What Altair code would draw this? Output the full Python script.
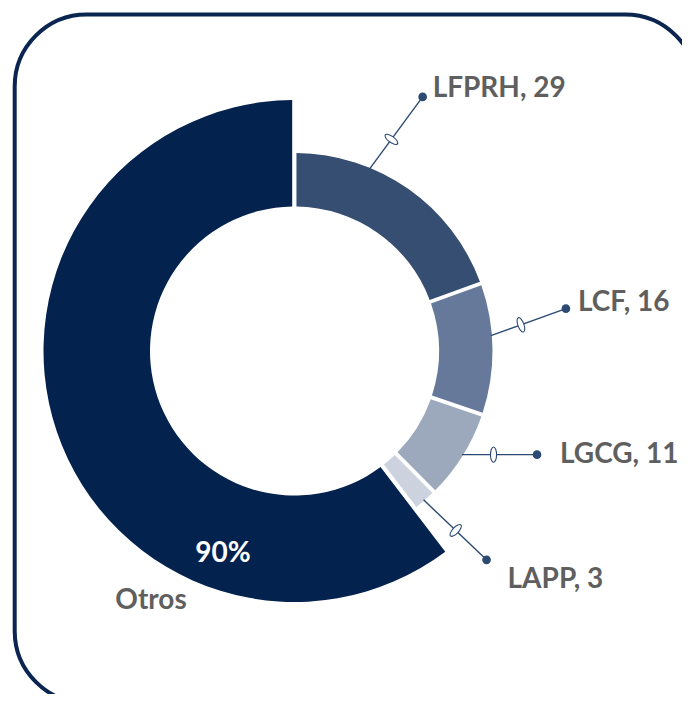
import math
import altair as alt
import pandas as pd

# ---- data ----
categories = ["LFPRH", "LCF", "LGCG", "LAPP", "Otros"]
values = [29, 16, 11, 3, 90]
colors = ["#354e71", "#66799a", "#9ca9bd", "#ccd3de", "#03224e"]

# ---- layout / style ----
W, H = 674, 686
CX, CY = 286.5, 343.0
R_IN = 144.5
R_OUT_MAIN = 251
R_OUT_SMALL = 198
LINE = "#2c4a72"
TEXT = "#5f5f5f"
BORDER = "#0a2550"
FONT = "Lato"
FS = 28
ELLIPSE = "M0,-1 A0.4,1 0 1,1 0,1 A0.4,1 0 1,1 0,-1 Z"

# annotation layout for the four labelled slices
anchor_frac = [0.32, 0.40, 0.49, 0.52]            # where along the slice the leader starts
dot_offset = [(53, -72), (75, -27), (75, 0), (63, 60)]
mark_frac = [0.41, 0.40, 0.42, 0.51]              # where the break symbol sits on the leader
text_offset = [(10, 0), (12, 2.5), (23, 8), (21, 28)]

# ---- derived tables ----
total = sum(values)
t0, t1, acc = [], [], 0.0
for v in values:
    t0.append(acc / total * 2 * math.pi)
    acc += v
    t1.append(acc / total * 2 * math.pi)

arcs_df = pd.DataFrame({
    "cat": categories,
    "val": values,
    "t0": t0,
    "t1": t1,
    "outer": [R_OUT_MAIN if c == "Otros" else R_OUT_SMALL for c in categories],
})

rows = []
for i in range(4):
    a = t0[i] + anchor_frac[i] * (t1[i] - t0[i])
    x0 = CX + (R_OUT_SMALL - 1) * math.sin(a)
    y0 = CY - (R_OUT_SMALL - 1) * math.cos(a)
    dx, dy = dot_offset[i]
    x1, y1 = x0 + dx, y0 + dy
    f = mark_frac[i]
    ang = math.degrees(math.atan2(dy, dx)) % 360
    rows.append({
        "cat": categories[i],
        "label": f"{categories[i]}, {values[i]}",
        "x0": x0, "y0": y0, "x1": x1, "y1": y1,
        "mx": x0 + f * dx, "my": y0 + f * dy, "ang": ang,
        "tx": x1 + text_offset[i][0], "ty": y1 + text_offset[i][1],
    })
ann_df = pd.DataFrame(rows)

center_df = pd.DataFrame({
    "txt": [f"{values[4]}%", categories[4]],
    "x": [215, 143],
    "y": [554, 601],
    "col": ["white", TEXT],
})

xs = alt.Scale(domain=[0, W], nice=False, zero=False)
ys = alt.Scale(domain=[0, H], nice=False, zero=False, reverse=True)

border = alt.Chart(pd.DataFrame({"k": [0]})).mark_rect(
    cornerRadiusTopLeft=72, cornerRadiusTopRight=72, cornerRadiusBottomLeft=72,
    cornerRadiusBottomRight=0,
    fill="white", fillOpacity=0, stroke=BORDER, strokeWidth=4
).encode(x=alt.value(6.7), x2=alt.value(689), y=alt.value(6.5), y2=alt.value(695))

arcs = alt.Chart(arcs_df).mark_arc(innerRadius=R_IN, padAngle=0.016).encode(
    theta=alt.Theta("t0:Q", scale=None, stack=None),
    theta2="t1:Q",
    radius=alt.Radius("outer:Q", scale=None),
    color=alt.Color("cat:N", scale=alt.Scale(domain=categories, range=colors), legend=None),
    x=alt.value(CX),
    y=alt.value(CY),
)

rules = alt.Chart(ann_df).mark_rule(color=LINE, strokeWidth=1.4).encode(
    x=alt.X("x0:Q", scale=xs, axis=None),
    y=alt.Y("y0:Q", scale=ys, axis=None),
    x2="x1:Q",
    y2="y1:Q",
)

breaks = alt.Chart(ann_df).mark_point(
    shape=ELLIPSE, size=230, filled=True, fill="white", stroke=LINE, strokeWidth=1.1, opacity=1
).encode(
    x=alt.X("mx:Q", scale=xs, axis=None),
    y=alt.Y("my:Q", scale=ys, axis=None),
    angle=alt.Angle("ang:Q", scale=None),
)

dots = alt.Chart(ann_df).mark_circle(size=75, color=LINE, opacity=1).encode(
    x=alt.X("x1:Q", scale=xs, axis=None),
    y=alt.Y("y1:Q", scale=ys, axis=None),
)

labels = alt.Chart(ann_df).mark_text(
    align="left", baseline="alphabetic", font=FONT, fontSize=FS, fontWeight="bold", color=TEXT
).encode(
    x=alt.X("tx:Q", scale=xs, axis=None),
    y=alt.Y("ty:Q", scale=ys, axis=None),
    text="label:N",
)

center_txt = alt.Chart(center_df).mark_text(
    align="center", baseline="alphabetic", font=FONT, fontSize=FS, fontWeight="bold"
).encode(
    x=alt.X("x:Q", scale=xs, axis=None),
    y=alt.Y("y:Q", scale=ys, axis=None),
    text="txt:N",
    color=alt.Color("col:N", scale=None),
)

chart = alt.layer(border, arcs, rules, breaks, dots, labels, center_txt).properties(
    width=W, height=H, autosize=alt.AutoSizeParams(type="none"), padding=0, background="white"
).configure_view(stroke=None)

chart.save("out.html", embed_options={"renderer": "svg", "actions": False})
